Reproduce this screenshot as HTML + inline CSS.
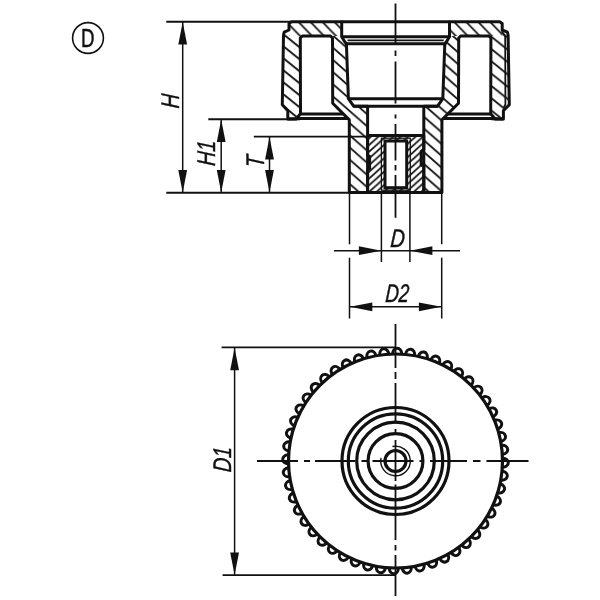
<!DOCTYPE html>
<html><head><meta charset="utf-8"><title>Knurled knob drawing</title>
<style>html,body{margin:0;padding:0;background:#fff}svg{display:block;filter:grayscale(1) blur(0.35px)}text{font-family:"Liberation Sans",sans-serif;fill:#111}</style></head><body>
<svg width="600" height="600" viewBox="0 0 600 600">
<rect width="600" height="600" fill="#fff"/>
<defs>
<pattern id="hr1" patternUnits="userSpaceOnUse" width="11.981" height="12.340" x="299.5" y="23"><path d="M-11.981,-12.340 L23.961,24.680 M0,-12.340 L23.961,12.340 M-11.981,0 L11.981,24.680" stroke="#111" stroke-width="1.8" fill="none"/></pattern>
<clipPath id="cr1"><rect x="289" y="0" width="213.3" height="36"/></clipPath>
<pattern id="hr2" patternUnits="userSpaceOnUse" width="15.000" height="12.000" x="292" y="41.2"><path d="M-15.000,-12.000 L30.000,24.000 M0,-12.000 L30.000,12.000 M-15.000,0 L15.000,24.000" stroke="#111" stroke-width="1.8" fill="none"/></pattern>
<clipPath id="cr2"><path d="M270,0 H289 V36 H315 V206 H270 Z"/></clipPath>
<pattern id="hr3" patternUnits="userSpaceOnUse" width="13.807" height="12.150" x="340" y="53.9"><path d="M-13.807,-12.150 L27.614,24.300 M0,-12.150 L27.614,12.150 M-13.807,0 L13.807,24.300" stroke="#111" stroke-width="1.8" fill="none"/></pattern>
<clipPath id="cr3"><rect x="315" y="36" width="60" height="170"/></clipPath>
<pattern id="hr5" patternUnits="userSpaceOnUse" width="13.409" height="11.800" x="426.2" y="130.5"><path d="M-13.409,-11.800 L26.818,23.600 M0,-11.800 L26.818,11.800 M-13.409,0 L13.409,23.600" stroke="#111" stroke-width="1.8" fill="none"/></pattern>
<clipPath id="cr5"><rect x="415" y="36" width="60" height="170"/></clipPath>
<pattern id="hr7" patternUnits="userSpaceOnUse" width="15.375" height="12.300" x="499.65" y="55.65"><path d="M-15.375,-12.300 L30.750,24.600 M0,-12.300 L30.750,12.300 M-15.375,0 L15.375,24.600" stroke="#111" stroke-width="1.8" fill="none"/></pattern>
<clipPath id="cr7"><path d="M530,0 H502.3 V36 H475 V206 H530 Z"/></clipPath>
<pattern id="hi" patternUnits="userSpaceOnUse" width="7.444" height="6.700" x="371" y="150"><path d="M-7.444,13.400 L14.889,-6.700 M-7.444,6.700 L7.444,-6.700 M0,13.400 L14.889,0" stroke="#111" stroke-width="1.7" fill="none"/></pattern>
</defs>
<path d="M341.70,21.70 L291.50,21.70 L289.00,23.50 L289.00,30.00 L284.20,32.20 L283.50,35.00 L282.30,104.80 L287.80,110.60 L287.80,119.00 L296.00,119.00 L300.50,113.80 L300.30,38.00 L302.30,36.00 L330.50,36.00 L332.50,38.00 L332.70,103.30 L349.30,119.90 L349.30,192.40 L367.60,192.40 L367.60,106.20 L353.60,106.20 L348.40,98.70 L346.40,43.70 L344.60,41.50 L341.70,36.70 Z" fill="url(#hr1)" clip-path="url(#cr1)"/>
<path d="M341.70,21.70 L291.50,21.70 L289.00,23.50 L289.00,30.00 L284.20,32.20 L283.50,35.00 L282.30,104.80 L287.80,110.60 L287.80,119.00 L296.00,119.00 L300.50,113.80 L300.30,38.00 L302.30,36.00 L330.50,36.00 L332.50,38.00 L332.70,103.30 L349.30,119.90 L349.30,192.40 L367.60,192.40 L367.60,106.20 L353.60,106.20 L348.40,98.70 L346.40,43.70 L344.60,41.50 L341.70,36.70 Z" fill="url(#hr2)" clip-path="url(#cr2)"/>
<path d="M341.70,21.70 L291.50,21.70 L289.00,23.50 L289.00,30.00 L284.20,32.20 L283.50,35.00 L282.30,104.80 L287.80,110.60 L287.80,119.00 L296.00,119.00 L300.50,113.80 L300.30,38.00 L302.30,36.00 L330.50,36.00 L332.50,38.00 L332.70,103.30 L349.30,119.90 L349.30,192.40 L367.60,192.40 L367.60,106.20 L353.60,106.20 L348.40,98.70 L346.40,43.70 L344.60,41.50 L341.70,36.70 Z" fill="url(#hr3)" clip-path="url(#cr3)"/>
<path d="M341.70,21.70 L291.50,21.70 L289.00,23.50 L289.00,30.00 L284.20,32.20 L283.50,35.00 L282.30,104.80 L287.80,110.60 L287.80,119.00 L296.00,119.00 L300.50,113.80 L300.30,38.00 L302.30,36.00 L330.50,36.00 L332.50,38.00 L332.70,103.30 L349.30,119.90 L349.30,192.40 L367.60,192.40 L367.60,106.20 L353.60,106.20 L348.40,98.70 L346.40,43.70 L344.60,41.50 L341.70,36.70 Z" fill="url(#hr5)" clip-path="url(#cr5)"/>
<path d="M341.70,21.70 L291.50,21.70 L289.00,23.50 L289.00,30.00 L284.20,32.20 L283.50,35.00 L282.30,104.80 L287.80,110.60 L287.80,119.00 L296.00,119.00 L300.50,113.80 L300.30,38.00 L302.30,36.00 L330.50,36.00 L332.50,38.00 L332.70,103.30 L349.30,119.90 L349.30,192.40 L367.60,192.40 L367.60,106.20 L353.60,106.20 L348.40,98.70 L346.40,43.70 L344.60,41.50 L341.70,36.70 Z" fill="url(#hr7)" clip-path="url(#cr7)"/>
<path d="M341.70,21.70 L291.50,21.70 L289.00,23.50 L289.00,30.00 L284.20,32.20 L283.50,35.00 L282.30,104.80 L287.80,110.60 L287.80,119.00 L296.00,119.00 L300.50,113.80 L300.30,38.00 L302.30,36.00 L330.50,36.00 L332.50,38.00 L332.70,103.30 L349.30,119.90 L349.30,192.40 L367.60,192.40 L367.60,106.20 L353.60,106.20 L348.40,98.70 L346.40,43.70 L344.60,41.50 L341.70,36.70 Z" fill="none" stroke="#111" stroke-width="3.0" stroke-linejoin="round"/>
<path d="M449.50,21.70 L499.70,21.70 L502.20,23.50 L502.20,30.00 L507.40,32.20 L508.10,35.00 L509.30,104.80 L503.40,110.60 L503.40,119.00 L495.20,119.00 L490.70,113.80 L490.90,38.00 L488.90,36.00 L460.70,36.00 L458.70,38.00 L458.50,103.30 L441.90,119.90 L441.90,192.40 L423.80,192.40 L423.80,106.20 L437.60,106.20 L442.80,98.70 L444.80,43.70 L446.60,41.50 L449.50,36.70 Z" fill="url(#hr1)" clip-path="url(#cr1)"/>
<path d="M449.50,21.70 L499.70,21.70 L502.20,23.50 L502.20,30.00 L507.40,32.20 L508.10,35.00 L509.30,104.80 L503.40,110.60 L503.40,119.00 L495.20,119.00 L490.70,113.80 L490.90,38.00 L488.90,36.00 L460.70,36.00 L458.70,38.00 L458.50,103.30 L441.90,119.90 L441.90,192.40 L423.80,192.40 L423.80,106.20 L437.60,106.20 L442.80,98.70 L444.80,43.70 L446.60,41.50 L449.50,36.70 Z" fill="url(#hr2)" clip-path="url(#cr2)"/>
<path d="M449.50,21.70 L499.70,21.70 L502.20,23.50 L502.20,30.00 L507.40,32.20 L508.10,35.00 L509.30,104.80 L503.40,110.60 L503.40,119.00 L495.20,119.00 L490.70,113.80 L490.90,38.00 L488.90,36.00 L460.70,36.00 L458.70,38.00 L458.50,103.30 L441.90,119.90 L441.90,192.40 L423.80,192.40 L423.80,106.20 L437.60,106.20 L442.80,98.70 L444.80,43.70 L446.60,41.50 L449.50,36.70 Z" fill="url(#hr3)" clip-path="url(#cr3)"/>
<path d="M449.50,21.70 L499.70,21.70 L502.20,23.50 L502.20,30.00 L507.40,32.20 L508.10,35.00 L509.30,104.80 L503.40,110.60 L503.40,119.00 L495.20,119.00 L490.70,113.80 L490.90,38.00 L488.90,36.00 L460.70,36.00 L458.70,38.00 L458.50,103.30 L441.90,119.90 L441.90,192.40 L423.80,192.40 L423.80,106.20 L437.60,106.20 L442.80,98.70 L444.80,43.70 L446.60,41.50 L449.50,36.70 Z" fill="url(#hr5)" clip-path="url(#cr5)"/>
<path d="M449.50,21.70 L499.70,21.70 L502.20,23.50 L502.20,30.00 L507.40,32.20 L508.10,35.00 L509.30,104.80 L503.40,110.60 L503.40,119.00 L495.20,119.00 L490.70,113.80 L490.90,38.00 L488.90,36.00 L460.70,36.00 L458.70,38.00 L458.50,103.30 L441.90,119.90 L441.90,192.40 L423.80,192.40 L423.80,106.20 L437.60,106.20 L442.80,98.70 L444.80,43.70 L446.60,41.50 L449.50,36.70 Z" fill="url(#hr7)" clip-path="url(#cr7)"/>
<path d="M449.50,21.70 L499.70,21.70 L502.20,23.50 L502.20,30.00 L507.40,32.20 L508.10,35.00 L509.30,104.80 L503.40,110.60 L503.40,119.00 L495.20,119.00 L490.70,113.80 L490.90,38.00 L488.90,36.00 L460.70,36.00 L458.70,38.00 L458.50,103.30 L441.90,119.90 L441.90,192.40 L423.80,192.40 L423.80,106.20 L437.60,106.20 L442.80,98.70 L444.80,43.70 L446.60,41.50 L449.50,36.70 Z" fill="none" stroke="#111" stroke-width="3.0" stroke-linejoin="round"/>
<line x1="341.7" y1="21.7" x2="449.5" y2="21.7" stroke="#111" stroke-width="3.0"/>
<line x1="341.7" y1="36.7" x2="449.5" y2="36.7" stroke="#111" stroke-width="3.0"/>
<line x1="347.5" y1="40.4" x2="443.7" y2="40.4" stroke="#111" stroke-width="1.8"/>
<line x1="344.8" y1="43.7" x2="446.4" y2="43.7" stroke="#111" stroke-width="3.0"/>
<line x1="348.4" y1="98.7" x2="442.8" y2="98.7" stroke="#111" stroke-width="3.0"/>
<line x1="353.6" y1="106.2" x2="437.6" y2="106.2" stroke="#111" stroke-width="3.0"/>
<line x1="367.6" y1="135.4" x2="423.8" y2="135.4" stroke="#111" stroke-width="3.0"/>
<line x1="300.5" y1="113.9" x2="343.2" y2="113.9" stroke="#111" stroke-width="3.0"/>
<line x1="287.8" y1="119.0" x2="300" y2="118.7" stroke="#111" stroke-width="3.0"/>
<line x1="298" y1="118.4" x2="348.4" y2="118.4" stroke="#111" stroke-width="3.0"/>
<line x1="490.7" y1="113.9" x2="448.0" y2="113.9" stroke="#111" stroke-width="3.0"/>
<line x1="503.4" y1="119.0" x2="491.2" y2="118.7" stroke="#111" stroke-width="3.0"/>
<line x1="493.2" y1="118.4" x2="442.8" y2="118.4" stroke="#111" stroke-width="3.0"/>
<path d="M501.7,31.3 L505.2,36.5 L505.4,104.5 L503.6,108" fill="none" stroke="#111" stroke-width="1.8"/>
<path d="M367.6,135.4 H423.8 V192.4 H367.6 Z M385.0,141 V187.7 H406.7 V141 Z" fill="url(#hi)" fill-rule="evenodd" stroke="none"/>
<rect x="385.0" y="141" width="21.70" height="46.7" fill="#fff" stroke="#111" stroke-width="3.0"/>
<rect x="381.4" y="138.2" width="28.90" height="52" fill="none" stroke="#111" stroke-width="1.3"/>
<path d="M367.6,135.4 V155 L369.6,156.5 V168.5 L367.6,170 V192.4" fill="none" stroke="#111" stroke-width="3.0"/>
<path d="M423.8,135.4 V149 L421.2,151.5 V165 L423.8,166.5 V192.4" fill="none" stroke="#111" stroke-width="3.0"/>
<line x1="349.3" y1="192.4" x2="441.9" y2="192.4" stroke="#111" stroke-width="3.0"/>
<path d="M395.5,3.5 V45 M395.5,50.5 V56 M395.5,61.5 V103.5 M395.5,114.5 V118.5 M395.5,124 V160.5 M395.5,165 V170.5 M395.5,175 V217.7" stroke="#111" stroke-width="1.8" fill="none"/>
<path d="M395.5,324 V368 M395.5,372 V379 M395.5,383 V423.5 M395.5,429 V432 M395.5,440 V481 M395.5,484.5 V487 M395.5,490 V540 M395.5,545 V550.5 M395.5,555 V596" stroke="#111" stroke-width="1.8" fill="none"/>
<path d="M257,461 H298 M304,461 H310 M315,461 H355 M361.5,461 H368 M372.5,461 H413.5 M419.5,461 H424 M430,461 H467 M473,461 H480.5 M486.5,461 H528.5" stroke="#111" stroke-width="1.8" fill="none"/>
<line x1="166.3" y1="21.7" x2="291" y2="21.7" stroke="#111" stroke-width="1.9"/>
<line x1="166.3" y1="192.7" x2="349.3" y2="192.7" stroke="#111" stroke-width="1.9"/>
<line x1="208.3" y1="119.2" x2="288" y2="119.2" stroke="#111" stroke-width="1.9"/>
<line x1="253.8" y1="136.6" x2="367.6" y2="136.6" stroke="#111" stroke-width="1.9"/>
<line x1="182.7" y1="21.7" x2="182.7" y2="192.7" stroke="#111" stroke-width="1.5"/>
<polygon points="182.70,22.00 178.30,44.50 187.10,44.50" fill="#111"/>
<polygon points="182.70,192.40 178.30,169.90 187.10,169.90" fill="#111"/>
<line x1="221.2" y1="119.2" x2="221.2" y2="192.7" stroke="#111" stroke-width="1.5"/>
<polygon points="221.20,119.50 216.80,142.00 225.60,142.00" fill="#111"/>
<polygon points="221.20,192.40 216.80,169.90 225.60,169.90" fill="#111"/>
<line x1="269.5" y1="136.6" x2="269.5" y2="192.7" stroke="#111" stroke-width="1.5"/>
<polygon points="269.50,136.90 265.10,159.40 273.90,159.40" fill="#111"/>
<polygon points="269.50,192.40 265.10,169.90 273.90,169.90" fill="#111"/>
<line x1="349.5" y1="192.4" x2="349.5" y2="244.3" stroke="#111" stroke-width="1.5"/>
<line x1="349.5" y1="257.7" x2="349.5" y2="318.5" stroke="#111" stroke-width="1.5"/>
<line x1="441.7" y1="192.4" x2="441.7" y2="244.3" stroke="#111" stroke-width="1.5"/>
<line x1="441.7" y1="257.7" x2="441.7" y2="318.5" stroke="#111" stroke-width="1.5"/>
<line x1="381.4" y1="192.4" x2="381.4" y2="262" stroke="#111" stroke-width="1.5"/>
<line x1="409.9" y1="192.4" x2="409.9" y2="262" stroke="#111" stroke-width="1.5"/>
<line x1="334" y1="250.7" x2="460" y2="250.7" stroke="#111" stroke-width="1.5"/>
<polygon points="381.40,250.70 358.90,246.30 358.90,255.10" fill="#111"/>
<polygon points="409.90,250.70 432.40,246.30 432.40,255.10" fill="#111"/>
<line x1="349.5" y1="306.8" x2="441.7" y2="306.8" stroke="#111" stroke-width="1.5"/>
<polygon points="349.80,306.80 372.30,302.40 372.30,311.20" fill="#111"/>
<polygon points="441.40,306.80 418.90,302.40 418.90,311.20" fill="#111"/>
<line x1="221.6" y1="347.4" x2="395.5" y2="347.4" stroke="#111" stroke-width="1.7"/>
<line x1="222.6" y1="575.2" x2="395.5" y2="575.2" stroke="#111" stroke-width="1.7"/>
<line x1="234.6" y1="347.4" x2="234.6" y2="575.2" stroke="#111" stroke-width="1.5"/>
<polygon points="234.60,347.70 230.20,370.20 239.00,370.20" fill="#111"/>
<polygon points="234.60,574.90 230.20,552.40 239.00,552.40" fill="#111"/>
<circle cx="395.5" cy="461.0" r="107.0" fill="none" stroke="#111" stroke-width="3.2"/>
<path d="M392.69,353.54 A4.5,5.4 0.90 0 1 401.69,353.68 M405.66,353.99 A4.5,5.4 7.82 0 1 414.58,355.21 M418.49,355.99 A4.5,5.4 14.75 0 1 427.19,358.28 M430.98,359.53 A4.5,5.4 21.67 0 1 439.34,362.85 M442.95,364.54 A4.5,5.4 28.59 0 1 450.85,368.85 M454.23,370.97 A4.5,5.4 35.52 0 1 461.55,376.19 M464.65,378.70 A4.5,5.4 42.44 0 1 471.29,384.78 M474.07,387.64 A4.5,5.4 49.36 0 1 479.93,394.47 M482.34,397.64 A4.5,5.4 56.28 0 1 487.33,405.13 M489.34,408.57 A4.5,5.4 63.21 0 1 493.40,416.61 M494.98,420.27 A4.5,5.4 70.13 0 1 498.04,428.73 M499.16,432.55 A4.5,5.4 77.05 0 1 501.18,441.32 M501.83,445.26 A4.5,5.4 83.98 0 1 502.78,454.21 M502.96,458.19 A4.5,5.4 90.90 0 1 502.82,467.19 M502.51,471.16 A4.5,5.4 97.82 0 1 501.29,480.08 M500.51,483.99 A4.5,5.4 104.75 0 1 498.22,492.69 M496.97,496.48 A4.5,5.4 111.67 0 1 493.65,504.84 M491.96,508.45 A4.5,5.4 118.59 0 1 487.65,516.35 M485.53,519.73 A4.5,5.4 125.52 0 1 480.31,527.05 M477.80,530.15 A4.5,5.4 132.44 0 1 471.72,536.79 M468.86,539.57 A4.5,5.4 139.36 0 1 462.03,545.43 M458.86,547.84 A4.5,5.4 146.28 0 1 451.37,552.83 M447.93,554.84 A4.5,5.4 153.21 0 1 439.89,558.90 M436.23,560.48 A4.5,5.4 160.13 0 1 427.77,563.54 M423.95,564.66 A4.5,5.4 167.05 0 1 415.18,566.68 M411.24,567.33 A4.5,5.4 173.98 0 1 402.29,568.28 M398.31,568.46 A4.5,5.4 180.90 0 1 389.31,568.32 M385.34,568.01 A4.5,5.4 187.82 0 1 376.42,566.79 M372.51,566.01 A4.5,5.4 194.75 0 1 363.81,563.72 M360.02,562.47 A4.5,5.4 201.67 0 1 351.66,559.15 M348.05,557.46 A4.5,5.4 208.59 0 1 340.15,553.15 M336.77,551.03 A4.5,5.4 215.52 0 1 329.45,545.81 M326.35,543.30 A4.5,5.4 222.44 0 1 319.71,537.22 M316.93,534.36 A4.5,5.4 229.36 0 1 311.07,527.53 M308.66,524.36 A4.5,5.4 236.28 0 1 303.67,516.87 M301.66,513.43 A4.5,5.4 243.21 0 1 297.60,505.39 M296.02,501.73 A4.5,5.4 250.13 0 1 292.96,493.27 M291.84,489.45 A4.5,5.4 257.05 0 1 289.82,480.68 M289.17,476.74 A4.5,5.4 263.98 0 1 288.22,467.79 M288.04,463.81 A4.5,5.4 270.90 0 1 288.18,454.81 M288.49,450.84 A4.5,5.4 277.82 0 1 289.71,441.92 M290.49,438.01 A4.5,5.4 284.75 0 1 292.78,429.31 M294.03,425.52 A4.5,5.4 291.67 0 1 297.35,417.16 M299.04,413.55 A4.5,5.4 298.59 0 1 303.35,405.65 M305.47,402.27 A4.5,5.4 305.52 0 1 310.69,394.95 M313.20,391.85 A4.5,5.4 312.44 0 1 319.28,385.21 M322.14,382.43 A4.5,5.4 319.36 0 1 328.97,376.57 M332.14,374.16 A4.5,5.4 326.28 0 1 339.63,369.17 M343.07,367.16 A4.5,5.4 333.21 0 1 351.11,363.10 M354.77,361.52 A4.5,5.4 340.13 0 1 363.23,358.46 M367.05,357.34 A4.5,5.4 347.05 0 1 375.82,355.32 M379.76,354.67 A4.5,5.4 353.98 0 1 388.71,353.72" fill="none" stroke="#111" stroke-width="3.0"/>
<circle cx="395.5" cy="461.0" r="53.5" fill="none" stroke="#111" stroke-width="3.2"/>
<circle cx="395.5" cy="461.0" r="47.2" fill="none" stroke="#111" stroke-width="3.2"/>
<circle cx="395.5" cy="461.0" r="38.8" fill="none" stroke="#111" stroke-width="3.2"/>
<circle cx="395.5" cy="461.0" r="27.4" fill="none" stroke="#111" stroke-width="3.2"/>
<circle cx="395.5" cy="461.0" r="10.5" fill="none" stroke="#111" stroke-width="3.2"/>
<path d="M392.42,446.52 A14.8,14.8 0 1 1 381.02,457.92" fill="none" stroke="#111" stroke-width="1.4"/>
<text transform="translate(179,101.5) rotate(-90) scale(0.78,1) skewX(-5)" font-size="25.5" font-style="italic" text-anchor="middle" stroke="#111" stroke-width="0.45">H</text>
<text transform="translate(215.3,153.6) rotate(-90) scale(0.78,1) skewX(-5)" font-size="25.5" font-style="italic" text-anchor="middle" stroke="#111" stroke-width="0.45">H1</text>
<text transform="translate(264.3,162) rotate(-90) scale(0.78,1) skewX(-5)" font-size="25.5" font-style="italic" text-anchor="middle" stroke="#111" stroke-width="0.45">T</text>
<text transform="translate(397.3,247) scale(0.78,1) skewX(-5)" font-size="25.5" font-style="italic" text-anchor="middle" stroke="#111" stroke-width="0.45">D</text>
<text transform="translate(396.8,301.7) scale(0.73,1) skewX(-5)" font-size="25.5" font-style="italic" text-anchor="middle" stroke="#111" stroke-width="0.45">D2</text>
<text transform="translate(230.6,459.8) rotate(-90) scale(0.78,1) skewX(-5)" font-size="25.5" font-style="italic" text-anchor="middle" stroke="#111" stroke-width="0.45">D1</text>
<circle cx="88" cy="38" r="15.4" fill="none" stroke="#111" stroke-width="1.6"/>
<text transform="translate(87.8,46.7) scale(0.72,1)" font-size="26" text-anchor="middle" stroke="#111" stroke-width="0.5">D</text>
</svg></body></html>
